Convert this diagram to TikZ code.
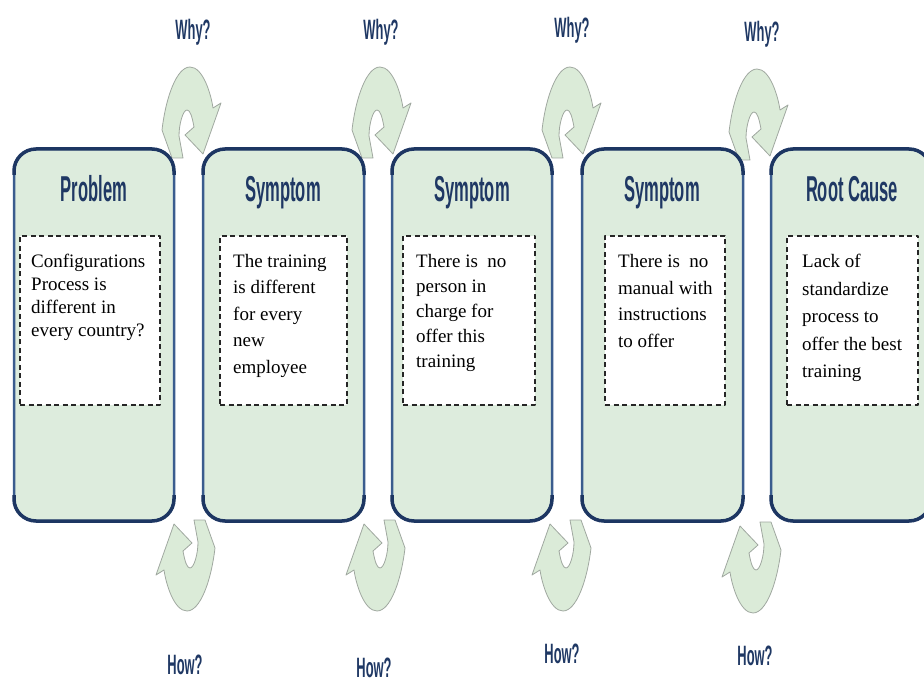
\documentclass[tikz,border=0pt]{standalone}
\usepackage{fontspec}
\setmainfont{Liberation Serif}
\newfontfamily\headfont[FakeStretch=0.46]{Liberation Sans}

\definecolor{boxfill}{RGB}{221,236,221}
\definecolor{boxedge}{RGB}{29,54,98}
\definecolor{boxside}{RGB}{58,92,142}
\definecolor{arrowfill}{RGB}{219,235,216}
\definecolor{arrowedge}{RGB}{160,168,160}
\definecolor{headblue}{RGB}{31,56,100}

\tikzset{uturn/.pic={
  \path[turn] (-18,48) -- (-28,20) .. controls (-24,-14) and (-13,-43) .. (0,-43)
    .. controls (13,-43) and (21,-16) .. (23,-2) -- (31,-7) -- (13,44) -- (-5,25) -- (4,17)
    .. controls (2,6) and (0,0) .. (-3,0) .. controls (-7,0) and (-11,14) .. (-11,26)
    -- (-7,48) -- cycle;
}}

\begin{document}
\begin{tikzpicture}[x=1pt,y=-1pt,line join=round,
  stage/.style={draw=boxside,line width=2.5pt,fill=boxfill,rounded corners=22pt,
    minimum height=372pt,inner sep=0pt,outer sep=0pt},
  rim/.style={draw=boxedge,line width=3.5pt,rounded corners=22pt},
  dashbox/.style={draw=black!85,fill=white,dash pattern=on 5pt off 3.5pt,line width=1.3pt,
    minimum height=169pt,inner sep=0pt},
  title/.style={anchor=base,font=\headfont\bfseries\fontsize{36}{40}\selectfont,text=headblue},
  ask/.style={anchor=base,font=\headfont\bfseries\fontsize{28}{30}\selectfont,text=headblue},
  note/.style={anchor=north west,align=left,inner sep=0pt,font=\fontsize{19}{#1}\selectfont},
  turn/.style={fill=arrowfill,draw=arrowedge,line width=0.8pt}]
\useasboundingbox (0,0) rectangle (924,684);
\clip (0,0) rectangle (924,684);

% why / how turns between the boxes
\foreach \x/\y in {190/110,380/110,570/110,757/112}
  \pic at (\x,\y) {uturn};
\foreach \x/\y in {187/568,377/568,563/568,753/570}
  \pic[rotate=180] at (\x,\y) {uturn};

\node[stage,minimum width=160pt] (s1) at (94,335) {};
\node[stage,minimum width=161pt] (s2) at (283.5,335) {};
\node[stage,minimum width=160pt] (s3) at (472,335) {};
\node[stage,minimum width=161pt] (s4) at (662.5,335) {};
\node[stage,minimum width=160pt] (s5) at (851,335) {};
\foreach \s in {s1,s2,s3,s4,s5}{
  \draw[rim] ([yshift=-26pt]\s.north west) -- (\s.north west) -- (\s.north east) -- ([yshift=-26pt]\s.north east);
  \draw[rim] ([yshift=26pt]\s.south west) -- (\s.south west) -- (\s.south east) -- ([yshift=26pt]\s.south east);
}

\node[dashbox,minimum width=140pt] (d1) at (90,320.5) {};
\node[dashbox,minimum width=127pt] (d2) at (283.5,320.5) {};
\node[dashbox,minimum width=132pt] (d3) at (469,320.5) {};
\node[dashbox,minimum width=120pt] (d4) at (665,320.5) {};
\node[dashbox,minimum width=131pt] (d5) at (852.5,320.5) {};

\node[title] (h1) at (94,202) {Problem};
\node[title] (h2) at (283,202) {Symptom};
\node[title] (h3) at (472,202) {Symptom};
\node[title] (h4) at (662,202) {Symptom};
\node[title] (h5) at (852,202) {Root Cause};

\node[note=23] (t1) at (31,254) {Configurations\\Process is\\different in\\every country?};
\node[note=26.5] (t2) at (233,254) {The training\\is different\\for every\\new\\employee};
\node[note=25] (t3) at (416,254) {There is~ no\\person in\\charge for\\offer this\\training};
\node[note=26.7] (t4) at (618,254) {There is~ no\\manual with\\instructions\\to offer};
\node[note=27.5] (t5) at (802,254) {Lack of\\standardize\\process to\\offer the best\\training};

\node[ask] (w1) at (193,40) {Why?};
\node[ask] (w2) at (381,40) {Why?};
\node[ask] (w3) at (572,38) {Why?};
\node[ask] (w4) at (762,42) {Why?};
\node[ask] (k1) at (185,674) {How?};
\node[ask] (k2) at (374,677) {How?};
\node[ask] (k3) at (562,663) {How?};
\node[ask] (k4) at (755,665) {How?};
\end{tikzpicture}
\end{document}
